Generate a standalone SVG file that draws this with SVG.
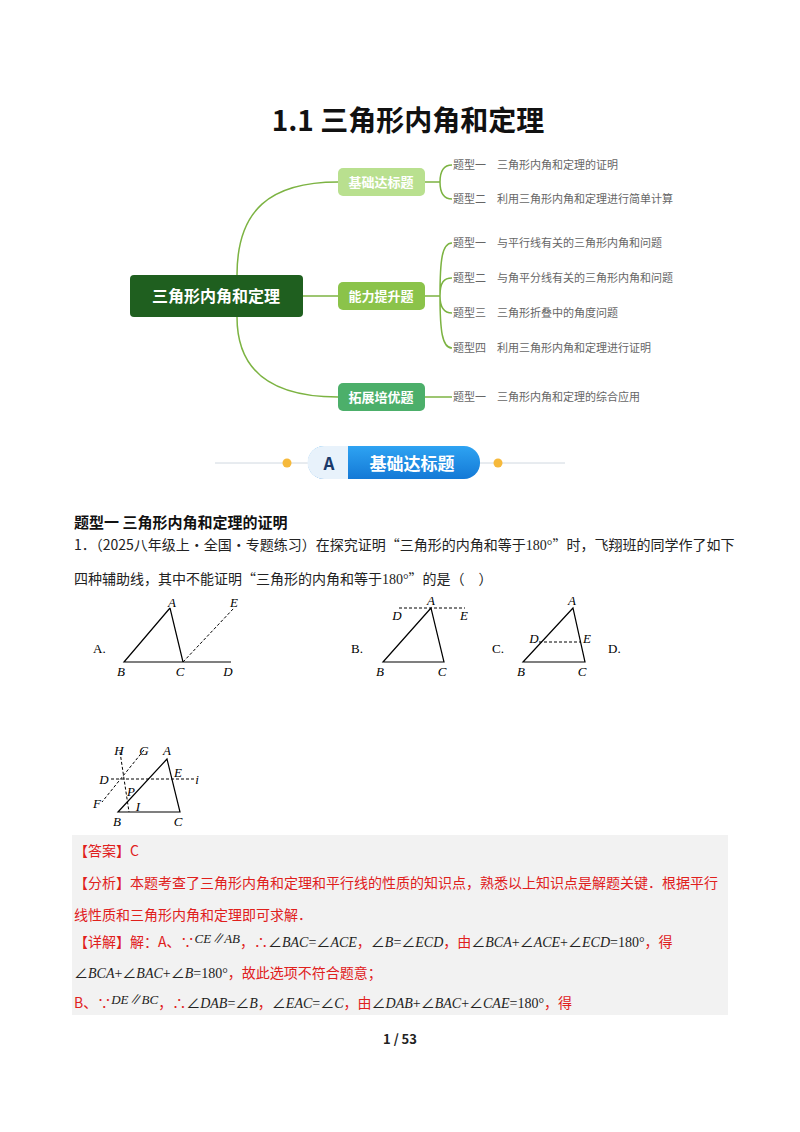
<svg xmlns="http://www.w3.org/2000/svg" width="800" height="1132" viewBox="0 0 800 1132">
<defs>
<style>
text{font-family:"Noto Sans CJK SC","Noto Sans",sans-serif}
.ser{font-family:"Liberation Serif","Noto Sans CJK SC",serif}
.it{font-family:"Liberation Serif",serif;font-style:italic;font-size:13px;text-anchor:middle}
.leaf{font-size:11px;fill:#666}
.bt{font-size:13px;fill:#fff;font-weight:bold;text-anchor:middle}
.g{fill:none;stroke:#7cb342;stroke-width:1.5}
.s{stroke:#000;stroke-width:1.2;fill:none}
.d{stroke:#000;stroke-width:1;fill:none;stroke-dasharray:3,2}
.r{fill:#e0201c;font-size:14px}
.k{fill:#222;font-size:14px}
</style>
<linearGradient id="bl" x1="0" x2="0" y1="0" y2="1"><stop offset="0" stop-color="#2ea3f2"/><stop offset="1" stop-color="#1479d6"/></linearGradient>
</defs>
<rect width="800" height="1132" fill="#fff"/>
<text x="408" y="131" font-size="28" font-weight="bold" text-anchor="middle" fill="#111">1.1 三角形内角和定理</text>
<g id="connectors">
<path class="g" d="M237 275 C237 210 270 182 338 182" stroke="#a5d67a"/>
<path class="g" d="M237 317 C237 370 270 397 338 397" stroke="#6cc08a"/>
<line class="g" x1="303" y1="296" x2="338" y2="296"/>
<path class="g" stroke="#b9e08f" d="M425 182 H440 M440 182 C440 170 445 165 452 165 M440 182 C440 194 445 199 452 199"/>
<path class="g" stroke="#9ccc65" d="M425 296 H440 M440 296 C440 260 442 243 452 243 M440 296 C440 282 444 278 452 278 M440 296 C440 308 444 313 452 313 M440 296 C440 330 442 348 452 348"/>
<line class="g" stroke="#6cc08a" x1="425" y1="397" x2="452" y2="397"/>
</g>
<g id="root"><rect x="130" y="275" width="173" height="42" rx="4" fill="#1f5f1f"/><text x="216" y="302" font-size="16" font-weight="bold" fill="#fff" text-anchor="middle">三角形内角和定理</text></g>
<g id="b1"><rect x="338" y="168" width="87" height="28" rx="5" fill="#b9e08f"/><text class="bt" x="381" y="187">基础达标题</text></g>
<g id="b2"><rect x="338" y="282" width="87" height="28" rx="5" fill="#8bc34a"/><text class="bt" x="381" y="301">能力提升题</text></g>
<g id="b3"><rect x="338" y="383" width="87" height="28" rx="5" fill="#4caf6a"/><text class="bt" x="381" y="402">拓展培优题</text></g>
<g id="leaves">
<text class="leaf" x="453" y="169">题型一　三角形内角和定理的证明</text>
<text class="leaf" x="453" y="203">题型二　利用三角形内角和定理进行简单计算</text>
<text class="leaf" x="453" y="247">题型一　与平行线有关的三角形内角和问题</text>
<text class="leaf" x="453" y="282">题型二　与角平分线有关的三角形内角和问题</text>
<text class="leaf" x="453" y="317">题型三　三角形折叠中的角度问题</text>
<text class="leaf" x="453" y="352">题型四　利用三角形内角和定理进行证明</text>
<text class="leaf" x="453" y="401">题型一　三角形内角和定理的综合应用</text>
</g>
<g id="banner">
<line x1="215" y1="463" x2="308" y2="463" stroke="#d0d8e0"/><line x1="480" y1="463" x2="565" y2="463" stroke="#d0d8e0"/>
<circle cx="287" cy="463" r="4.5" fill="#f6b93b"/><circle cx="498" cy="463" r="4.5" fill="#f6b93b"/>
<rect x="308" y="446" width="172" height="33" rx="16" fill="url(#bl)"/>
<path d="M324 446 H348 V479 H324 A16 16 0 0 1 324 446Z" fill="#e8f2fb"/>
<text x="329" y="470" font-size="17" font-weight="bold" fill="#1a3a6a" text-anchor="middle">A</text>
<text x="412" y="470" font-size="17" font-weight="bold" fill="#fff" text-anchor="middle">基础达标题</text>
</g>
<text x="74" y="528" font-size="15" font-weight="bold" fill="#111">题型一  三角形内角和定理的证明</text>
<text class="k" x="74" y="550">1．（2025八年级上·全国·专题练习）在探究证明“三角形的内角和等于<tspan class="ser">180°</tspan>”时，飞翔班的同学作了如下</text>
<text class="k" x="74" y="584">四种辅助线，其中不能证明“三角形的内角和等于<tspan class="ser">180°</tspan>”的是（　）</text>
<g id="figA">
<text class="ser" x="93" y="653" font-size="13">A.</text>
<path class="s" d="M170 608 L124 662 H231 M170 608 L183 662"/><path class="d" d="M183 662 L234 608"/>
<text class="it" x="172" y="607">A</text><text class="it" x="234" y="607">E</text><text class="it" x="121" y="676">B</text><text class="it" x="180" y="676">C</text><text class="it" x="228" y="676">D</text>
</g>
<g id="figB">
<text class="ser" x="351" y="653" font-size="13">B.</text>
<path class="s" d="M431 608 L383 662 H444 Z"/><path class="d" d="M399 608 H465"/>
<text class="it" x="431" y="605">A</text><text class="it" x="397" y="620">D</text><text class="it" x="464" y="620">E</text><text class="it" x="380" y="676">B</text><text class="it" x="442" y="676">C</text>
</g>
<g id="figC">
<text class="ser" x="492" y="653" font-size="13">C.</text>
<path class="s" d="M573 608 L523 662 H585 Z"/><path class="d" d="M539 642 H581"/>
<text class="it" x="572" y="605">A</text><text class="it" x="534" y="643">D</text><text class="it" x="587" y="643">E</text><text class="it" x="521" y="676">B</text><text class="it" x="582" y="676">C</text>
<text class="ser" x="608" y="653" font-size="13">D.</text>
</g>
<g id="figD">
<path class="s" d="M167 759 L118 812 H180 Z"/>
<path class="d" d="M111 779 H195 M144 750 L102 802 M120 752 L129 812"/>
<text class="it" x="119" y="755">H</text><text class="it" x="144" y="755">G</text><text class="it" x="167" y="755">A</text>
<text class="it" x="104" y="784">D</text><text class="it" x="178" y="777">E</text><text class="it" x="197" y="784">i</text>
<text class="it" x="131" y="796">P</text><text class="it" x="97" y="808">F</text><text class="it" x="138" y="811">I</text>
<text class="it" x="117" y="826">B</text><text class="it" x="178" y="826">C</text>
</g>
<rect x="72" y="835" width="656" height="180" fill="#f2f2f2"/>
<text class="r" x="74" y="856">【答案】C</text>
<text class="r" x="74" y="888">【分析】本题考查了三角形内角和定理和平行线的性质的知识点，熟悉以上知识点是解题关键．根据平行</text>
<text class="r" x="74" y="920">线性质和三角形内角和定理即可求解．</text>
<text class="r" x="74" y="947">【详解】解：A、∵<tspan class="ser" font-style="italic" font-size="13" fill="#222" dy="-4">CE∥AB</tspan><tspan dy="4">，∴</tspan><tspan class="ser" fill="#222">∠<tspan font-style="italic">BAC</tspan>=∠<tspan font-style="italic">ACE</tspan></tspan>，<tspan class="ser" fill="#222">∠<tspan font-style="italic">B</tspan>=∠<tspan font-style="italic">ECD</tspan></tspan>，由<tspan class="ser" fill="#222">∠<tspan font-style="italic">BCA</tspan>+∠<tspan font-style="italic">ACE</tspan>+∠<tspan font-style="italic">ECD</tspan>=180°</tspan>，得</text>
<text class="r" x="74" y="978"><tspan class="ser" fill="#222">∠<tspan font-style="italic">BCA</tspan>+∠<tspan font-style="italic">BAC</tspan>+∠<tspan font-style="italic">B</tspan>=180°</tspan>，故此选项不符合题意；</text>
<text class="r" x="74" y="1008">B、∵<tspan class="ser" font-style="italic" font-size="13" fill="#222" dy="-4">DE∥BC</tspan><tspan dy="4">，∴</tspan><tspan class="ser" fill="#222">∠<tspan font-style="italic">DAB</tspan>=∠<tspan font-style="italic">B</tspan></tspan>，<tspan class="ser" fill="#222">∠<tspan font-style="italic">EAC</tspan>=∠<tspan font-style="italic">C</tspan></tspan>，由<tspan class="ser" fill="#222">∠<tspan font-style="italic">DAB</tspan>+∠<tspan font-style="italic">BAC</tspan>+∠<tspan font-style="italic">CAE</tspan>=180°</tspan>，得</text>
<text x="400" y="1044" font-size="13" font-weight="bold" text-anchor="middle" fill="#222">1 / 53</text>
</svg>
